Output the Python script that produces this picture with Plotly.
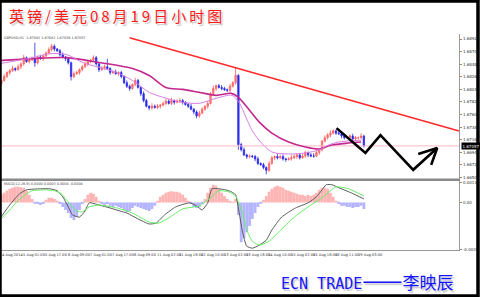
import plotly.graph_objects as go

W, H = 480, 297

# ---------------- data ----------------
first_open = 1.6815
closes = [
    1.6820, 1.6827, 1.6834, 1.6837, 1.6841, 1.6839, 1.6844, 1.6849, 1.6860, 1.6853,
    1.6856, 1.6858, 1.6851, 1.6861, 1.6858, 1.6863, 1.6868, 1.6874, 1.6880, 1.6875,
    1.6872, 1.6865, 1.6861, 1.6858, 1.6851, 1.6827, 1.6832, 1.6834, 1.6839, 1.6844,
    1.6849, 1.6853, 1.6856, 1.6860, 1.6849, 1.6839, 1.6842, 1.6844, 1.6841, 1.6834,
    1.6835, 1.6832, 1.6834, 1.6827, 1.6816, 1.6810, 1.6806, 1.6813, 1.6820, 1.6808,
    1.6797, 1.6785, 1.6775, 1.6772, 1.6775, 1.6773, 1.6775, 1.6777, 1.6780, 1.6784,
    1.6780, 1.6785, 1.6782, 1.6784, 1.6785, 1.6782, 1.6778, 1.6775, 1.6770, 1.6765,
    1.6758, 1.6763, 1.6770, 1.6775, 1.6780, 1.6797, 1.6806, 1.6811, 1.6808, 1.6806,
    1.6804, 1.6803, 1.6810, 1.6816, 1.6829, 1.6708, 1.6699, 1.6690, 1.6687, 1.6688,
    1.6687, 1.6683, 1.6675, 1.6673, 1.6668, 1.6663, 1.6675, 1.6685, 1.6687, 1.6685,
    1.6687, 1.6683, 1.6682, 1.6683, 1.6685, 1.6687, 1.6690, 1.6685, 1.6688, 1.6694,
    1.6690, 1.6688, 1.6688, 1.6694, 1.6699, 1.6714, 1.6720, 1.6725, 1.6728, 1.6732,
    1.6728, 1.6727, 1.6723, 1.6720, 1.6721, 1.6723, 1.6718, 1.6720, 1.6720, 1.6723,
    1.6706,
]
upper_wick_pips = [
    3, 4, 2, 3, 5, 2, 4, 3, 5, 2,
    3, 4, 28, 3, 4, 2, 3, 4, 4, 3,
    2, 3, 4, 2, 3, 2, 4, 3, 2, 3,
    4, 3, 2, 4, 3, 2, 3, 4, 14, 2,
    3, 4, 2, 3, 2, 4, 3, 2, 5, 3,
    2, 4, 3, 2, 5, 3, 4, 2, 3, 4,
    3, 5, 2, 3, 4, 3, 2, 3, 4, 2,
    3, 4, 3, 2, 4, 3, 5, 2, 3, 4,
    3, 2, 4, 3, 13, 2, 3, 4, 2, 3,
    2, 3, 4, 2, 3, 2, 4, 3, 2, 5,
    3, 4, 2, 3, 5, 4, 3, 2, 4, 3,
    2, 3, 5, 4, 3, 2, 4, 3, 5, 3,
    2, 4, 3, 4, 2, 3, 4, 3, 2, 5,
    2,
]
lower_wick_pips = [
    4, 2, 3, 4, 2, 3, 2, 4, 3, 2,
    3, 2, 7, 3, 2, 4, 3, 2, 3, 4,
    2, 3, 2, 4, 3, 7, 3, 2, 4, 3,
    2, 4, 3, 2, 3, 4, 2, 3, 2, 4,
    3, 2, 4, 3, 2, 3, 4, 2, 3, 2,
    4, 3, 2, 4, 3, 2, 3, 4, 2, 3,
    2, 3, 4, 2, 3, 4, 2, 3, 2, 4,
    4, 3, 2, 3, 4, 2, 3, 4, 2, 3,
    2, 3, 4, 2, 3, 9, 3, 2, 4, 3,
    2, 4, 3, 2, 3, 7, 3, 2, 4, 3,
    2, 3, 4, 2, 3, 2, 4, 3, 2, 3,
    4, 2, 3, 2, 4, 3, 2, 3, 4, 2,
    3, 2, 4, 3, 2, 3, 2, 4, 3, 2,
    3,
]
macd_hist = [
    0.00050, 0.00063, 0.00077, 0.00090, 0.00097, 0.00103, 0.00103, 0.00100, 0.00097, 0.00077,
    0.00050, 0.00023, -0.00003, -0.00010, -0.00017, -0.00010, 0.00017, 0.00030, 0.00030, 0.00023,
    0.00010, -0.00010, -0.00030, -0.00050, -0.00070, -0.00103, -0.00117, -0.00090, -0.00050, -0.00010,
    0.00023, 0.00050, 0.00063, 0.00057, 0.00037, 0.00010, -0.00010, -0.00017, -0.00010, -0.00023,
    -0.00030, -0.00023, -0.00030, -0.00037, -0.00050, -0.00063, -0.00057, -0.00037, -0.00023, -0.00030,
    -0.00037, -0.00043, -0.00050, -0.00057, -0.00043, -0.00023, 0.00010, 0.00037, 0.00050, 0.00063,
    0.00070, 0.00073, 0.00070, 0.00070, 0.00063, 0.00050, 0.00030, 0.00010, -0.00010, -0.00030,
    -0.00037, -0.00030, -0.00010, 0.00023, 0.00063, 0.00097, 0.00117, 0.00110, 0.00090, 0.00063,
    0.00043, 0.00023, 0.00010, 0.00003, 0.00023, -0.00083, -0.00263, -0.00237, -0.00197, -0.00157,
    -0.00110, -0.00070, -0.00030, -0.00003, 0.00017, 0.00043, 0.00070, 0.00090, 0.00103, 0.00110,
    0.00103, 0.00097, 0.00083, 0.00077, 0.00070, 0.00063, 0.00057, 0.00050, 0.00050, 0.00043,
    0.00050, 0.00043, 0.00050, 0.00063, 0.00083, 0.00097, 0.00097, 0.00090, 0.00063, 0.00037,
    0.00010, -0.00010, -0.00023, -0.00023, -0.00030, -0.00030, -0.00037, -0.00030, -0.00030, -0.00023,
    -0.00043,
]

# moving averages (hour index, price)
ma_slow_x = [0, 23.6, 47.9, 71.4, 95, 107, 119, 131, 143, 155, 166, 171, 179, 186, 195, 207, 219, 229, 238, 250, 259]
ma_slow_y = [1.68548, 1.68583, 1.68600, 1.68514, 1.68409, 1.68288, 1.68080, 1.68045, 1.67993, 1.67941,
             1.67975, 1.67906, 1.67680, 1.67472, 1.67281, 1.67125, 1.67038, 1.67003, 1.67073, 1.67107, 1.67125]
ma_fast_x = [0, 12.1, 23.6, 35.7, 47.9, 59.3, 71.4, 83.6, 95, 107.1, 119.3, 130.7, 142.9, 155, 166.4,
             171.4, 176.4, 180.7, 185.7, 195, 207.1, 219.3, 228.6, 235.7, 242.9, 259.3]
ma_fast_y = [1.68496, 1.68548, 1.68600, 1.68670, 1.68652, 1.68514, 1.68427, 1.68340, 1.68201, 1.67993,
             1.67889, 1.67819, 1.67802, 1.67889, 1.67941, 1.67819, 1.67559, 1.67333, 1.67159, 1.66951,
             1.66916, 1.66934, 1.66986, 1.67073, 1.67125, 1.67159]

# MACD main / signal lines (hour index, value)
macd_x = [0.7, 7, 14, 19, 29, 36, 41, 45, 49, 52, 57, 61, 64, 71, 79, 86, 91, 95, 102, 107, 112, 118,
          126, 136, 141, 145, 149, 152, 157, 162, 166, 169, 171, 174, 177, 181, 186, 191, 195, 202,
          212, 221, 227, 231, 234, 238, 243, 252, 261]
macd_y = [-0.00097, -0.00017, 0.00057, 0.00083, 0.00090, 0.00090, 0.00077, 0.00037, -0.00030, -0.00083,
          -0.00097, -0.00057, -0.00003, -0.00017, -0.00037, -0.00057, -0.00070, -0.00090, -0.00123, -0.00143,
          -0.00137, -0.00083, -0.00030, -0.00003, -0.00023, -0.00050, -0.00003, 0.00090, 0.00090, 0.00083,
          0.00070, 0.00050, -0.00037, -0.00197, -0.00290, -0.00303, -0.00283, -0.00250, -0.00183, -0.00097,
          -0.00037, -0.00003, 0.00037, 0.00083, 0.00117, 0.00117, 0.00097, 0.00063, 0.00023]
signal_x = [0.7, 7, 12, 18, 23, 32, 39, 44, 50, 55, 59, 64, 71, 84, 95, 107, 114, 121, 131, 143, 150,
            157, 164, 169, 174, 177, 181, 186, 193, 202, 212, 221, 231, 241, 250, 261]
signal_y = [-0.00110, -0.00050, 0.00003, 0.00050, 0.00077, 0.00083, 0.00077, 0.00057, -0.00010, -0.00057,
            -0.00063, -0.00030, -0.00017, -0.00037, -0.00070, -0.00130, -0.00137, -0.00103, -0.00043, -0.00023,
            0.00023, 0.00077, 0.00070, 0.00043, -0.00070, -0.00183, -0.00257, -0.00283, -0.00257, -0.00177,
            -0.00090, -0.00030, 0.00030, 0.00103, 0.00090, 0.00043]

# hand drawings on the chart (hour index, price)
trend_x = [92.9, 329.3]
trend_y = [1.68948, 1.67316]
zigzag_x = [241.4, 262.1, 272.9, 296.4, 313.6, None, 300.0, 313.6, 309.3]
zigzag_y = [1.67368, 1.66934, 1.67246, 1.66639, 1.67021, None, 1.66916, 1.67021, 1.66725]

current_price = 1.67057
price_ticks = [1.68925, 1.68705, 1.68485, 1.68265, 1.68045, 1.67825, 1.67605, 1.67385,
               1.67165, 1.66945, 1.66725, 1.66505]
macd_ticks = [0.0013, 0.0, -0.0031]
macd_tick_text = ["0.0013", "0.00", "-0.0031"]
time_tick_x = [0, 15, 31, 47, 63, 79, 95, 111, 127, 143, 159, 175, 191, 207, 223, 239, 255]
time_tick_text = ["4 Aug 2014", "5 Aug 01:00", "5 Aug 17:00", "6 Aug 09:00", "7 Aug 01:00",
                  "7 Aug 17:00", "8 Aug 09:00", "11 Aug 02:00", "11 Aug 18:00", "12 Aug 10:00",
                  "13 Aug 02:00", "13 Aug 18:00", "14 Aug 10:00", "15 Aug 02:00", "15 Aug 18:00",
                  "18 Aug 11:00", "19 Aug 03:00"]

title_text = "英镑/美元08月19日小时图"
footer_latin = "ECN TRADE"
footer_dash = "——"
footer_name = "李映辰"

# ---------------- build ----------------
n = len(closes)
bar_x = [2 * i + 1 for i in range(n)]
opens = [first_open] + closes[:-1]
highs = [max(o, c) + u * 1e-4 for o, c, u in zip(opens, closes, upper_wick_pips)]
lows = [min(o, c) - l * 1e-4 for o, c, l in zip(opens, closes, lower_wick_pips)]

XR = [0, 329.3]
XD = [0, 461 / W]
def py(px):  # paper y from pixel row
    return 1 - px / H
def pxx(px):
    return px / W

fig = go.Figure()
fig.add_trace(go.Candlestick(
    x=bar_x, open=opens, high=highs, low=lows, close=closes,
    increasing=dict(line=dict(color="#ff5c5c", width=0.8), fillcolor="#ff8f8f"),
    decreasing=dict(line=dict(color="#2b2be8", width=0.8), fillcolor="#2b2be8"),
    whiskerwidth=0, xaxis="x", yaxis="y", hoverinfo="skip", showlegend=False))

fig.add_trace(go.Scatter(x=[XR[0], XR[1]], y=[current_price, current_price], mode="lines",
                         line=dict(color="#ffb8c8", width=1), xaxis="x", yaxis="y",
                         hoverinfo="skip", showlegend=False))
fig.add_trace(go.Scatter(x=ma_slow_x, y=ma_slow_y, mode="lines", line=dict(color="#c4288e", width=1.6, shape="spline", smoothing=0.8),
                         xaxis="x", yaxis="y", hoverinfo="skip", showlegend=False))
fig.add_trace(go.Scatter(x=ma_fast_x, y=ma_fast_y, mode="lines", line=dict(color="#d67ee0", width=1, shape="spline", smoothing=0.8),
                         xaxis="x", yaxis="y", hoverinfo="skip", showlegend=False))
fig.add_trace(go.Scatter(x=trend_x, y=trend_y, mode="lines", line=dict(color="#ff2a2a", width=1.6),
                         xaxis="x", yaxis="y", hoverinfo="skip", showlegend=False))
fig.add_trace(go.Scatter(x=zigzag_x, y=zigzag_y, mode="lines", line=dict(color="#000000", width=2.6),
                         xaxis="x", yaxis="y", hoverinfo="skip", showlegend=False, connectgaps=False))

# MACD panel
fig.add_trace(go.Bar(x=bar_x, y=macd_hist, width=2,
                     marker=dict(color=["#ffb4b4" if v >= 0 else "#b4b4ff" for v in macd_hist], line=dict(width=0)),
                     xaxis="x2", yaxis="y2", hoverinfo="skip", showlegend=False))
fig.add_trace(go.Scatter(x=macd_x, y=macd_y, mode="lines", line=dict(color="#5a5a5a", width=1, shape="spline", smoothing=0.5),
                         xaxis="x2", yaxis="y2", hoverinfo="skip", showlegend=False))
fig.add_trace(go.Scatter(x=signal_x, y=signal_y, mode="lines", line=dict(color="#66ee66", width=1, shape="spline", smoothing=0.5),
                         xaxis="x2", yaxis="y2", hoverinfo="skip", showlegend=False))

axis_common = dict(showgrid=False, zeroline=False)
fig.update_layout(
    width=W, height=H, margin=dict(l=0, r=0, t=0, b=0),
    paper_bgcolor="white", plot_bgcolor="white", showlegend=False,
    font=dict(family="DejaVu Sans", color="#333333"),
    xaxis=dict(domain=XD, range=XR, anchor="y", showticklabels=False, ticks="",
               rangeslider=dict(visible=False), **axis_common),
    xaxis2=dict(domain=XD, range=XR, anchor="y2", showticklabels=False, ticks="",
                showline=True, linecolor="#9a9a9a", linewidth=1, **axis_common),
    yaxis=dict(domain=[py(180), py(33)], range=[1.66465, 1.69017], side="right", anchor="x",
               tickvals=price_ticks, ticktext=[f"{v:.5f}" for v in price_ticks],
               tickfont=dict(size=4, color="#333333"), ticks="outside", ticklen=2, tickcolor="#888888",
               showline=True, linecolor="#9a9a9a", linewidth=1, **axis_common),
    yaxis2=dict(domain=[py(251), py(181)], range=[-0.00317, 0.00143], side="right", anchor="x2",
                tickvals=macd_ticks, ticktext=macd_tick_text,
                tickfont=dict(size=4, color="#333333"), ticks="outside", ticklen=2, tickcolor="#888888",
                showline=True, linecolor="#9a9a9a", linewidth=1, **axis_common),
)

shapes = [
    dict(type="line", xref="paper", yref="paper", x0=0, x1=462 / W, y0=py(180), y1=py(180),
         line=dict(color="#8a8a8a", width=2.5)),
    dict(type="rect", xref="paper", yref="paper", x0=0, x1=1, y0=0, y1=1,
         line=dict(color="#000000", width=3.5), fillcolor="rgba(0,0,0,0)"),
]
fig.update_layout(shapes=shapes)

ann = []
for tx, tt in zip(time_tick_x, time_tick_text):
    ann.append(dict(x=tx, y=py(256), xref="x2", yref="paper", text=tt, showarrow=False,
                    xanchor="left", yanchor="middle", font=dict(size=3.6, color="#333333")))
# current price box
ann.append(dict(x=pxx(463), y=current_price, xref="paper", yref="y", text=f"{current_price:.5f}",
                showarrow=False, xanchor="left", yanchor="middle", bgcolor="#000000",
                font=dict(size=4, color="#ffffff"), borderpad=0.5))
# tiny headers
ann.append(dict(x=pxx(2), y=py(37), xref="paper", yref="paper",
                text="GBPUSD,H1  1.67082 1.67082 1.67036 1.67057", showarrow=False,
                xanchor="left", yanchor="middle", font=dict(size=3.4, color="#444444")))
ann.append(dict(x=pxx(2), y=py(184), xref="paper", yref="paper",
                text="MACD(12,26,9) 0.0000 0.0003 0.0000 -0.0004", showarrow=False,
                xanchor="left", yanchor="middle", font=dict(size=3.4, color="#444444")))
# title with shadow
spaced_title = "\u2009".join(list(title_text))
ann.append(dict(x=pxx(7), y=py(15), xref="paper", yref="paper", text=spaced_title,
                showarrow=False, xanchor="left", yanchor="middle",
                font=dict(size=15, color="#ff1a1a", family="Noto Sans CJK SC",
                          shadow="1.6px 1.6px 1px #c8c8c8")))
# footer with shadow
footer_html = (footer_latin
               + '<span style="font-family:\'Noto Sans CJK SC\';font-size:24px">' + footer_dash + '</span>'
               + '<span style="font-family:\'Noto Sans CJK SC\';font-size:17px">' + footer_name + '</span>')
ann.append(dict(x=pxx(280), y=py(279), xref="paper", yref="paper", text=footer_html,
                showarrow=False, xanchor="left", yanchor="middle",
                font=dict(size=15, color="#1414ff", family="DejaVu Sans Mono",
                          shadow="1.5px 1.5px 1px #c8c8c8")))
fig.update_layout(annotations=ann)

fig.write_html("out.html")
